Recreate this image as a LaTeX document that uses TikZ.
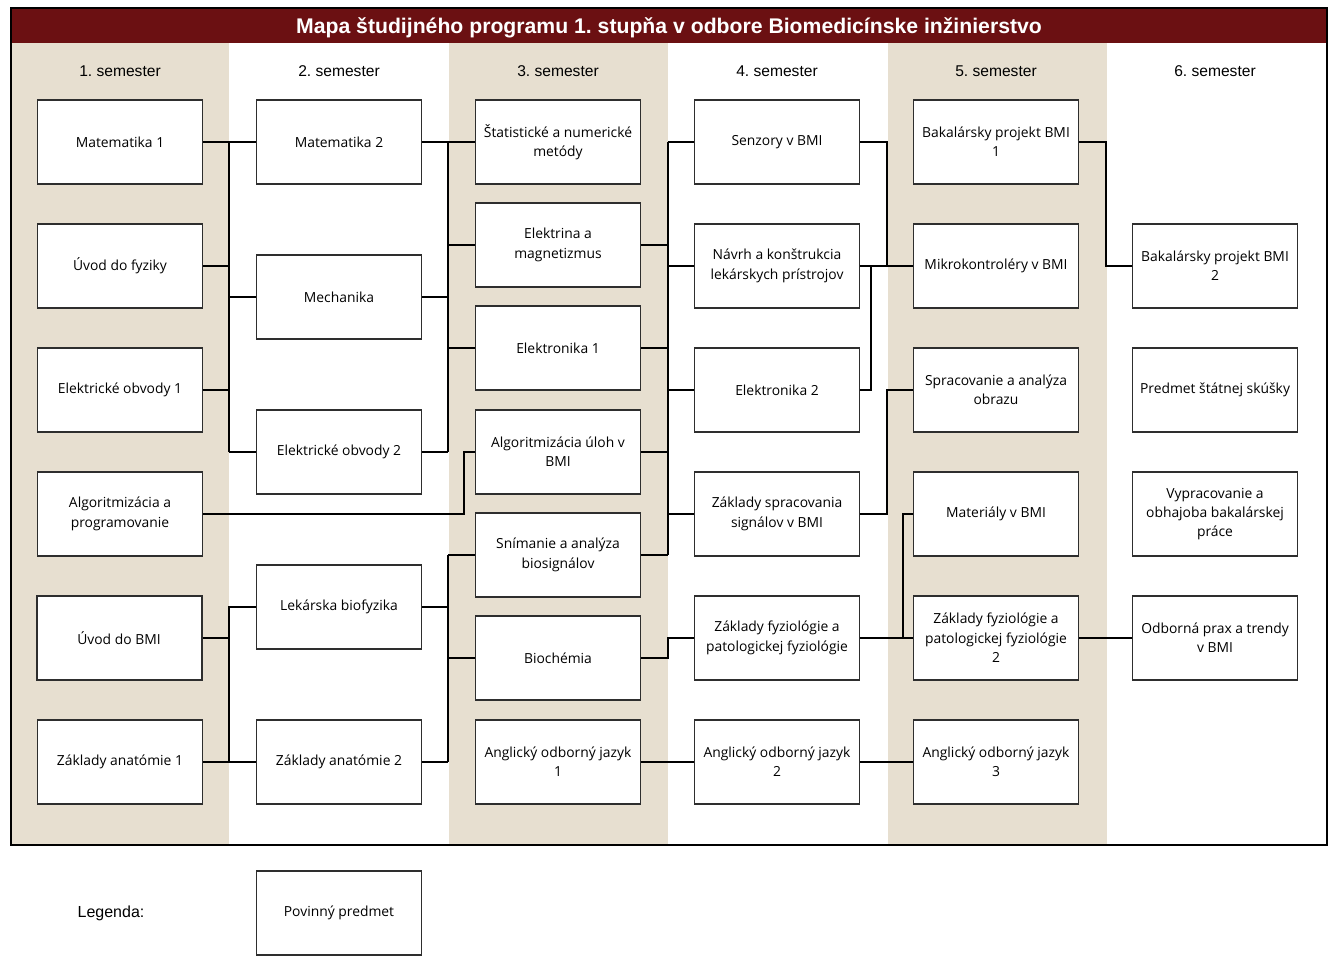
\documentclass[tikz,border=0pt]{standalone}
\usepackage{fontspec}
\setmainfont{Open Sans}
\newfontfamily\arialfont{Liberation Sans}
\usetikzlibrary{positioning}
\definecolor{mapbeige}{HTML}{E7DFD0}
\definecolor{mapred}{HTML}{6B1012}
\definecolor{boxgray}{HTML}{2E2E2E}
\frenchspacing

\begin{document}
\begin{tikzpicture}[
    x=0.75pt, y=-0.75pt,
    course/.style={rectangle, draw=boxgray, line width=1.1pt, fill=white, minimum width=123.75pt, minimum height=63pt, align=center, inner sep=0pt, font=\fontsize{10.4}{14.5}\selectfont},
    semlabel/.style={font=\arialfont\fontsize{11.7}{13}\selectfont},
    link/.style={draw=black, line width=1.1pt}
]
\useasboundingbox (0,0) rectangle (1333,978);

% Column backgrounds
\fill[mapbeige] (12,43) rectangle (229,845);
\fill[mapbeige] (449,43) rectangle (668,845);
\fill[mapbeige] (888,43) rectangle (1107,845);

% Title bar and frame
\fill[mapred] (12,9) rectangle (1326,43);
\node[font=\arialfont\bfseries\fontsize{15.9}{17}\selectfont, text=white] (title) at (669,28) {Mapa študijného programu 1. stupňa v odbore Biomedicínske inžinierstvo};
\draw[line width=1.5pt] (11,8) rectangle (1327,845);

% Semester labels
\node[semlabel] (s1) at (120,71) {1. semester};
\node[semlabel] (s2) at (339,71) {2. semester};
\node[semlabel] (s3) at (558,71) {3. semester};
\node[semlabel] (s4) at (777,71) {4. semester};
\node[semlabel] (s5) at (996,71) {5. semester};
\node[semlabel] (s6) at (1215,71) {6. semester};

% 1. semester
\node[course] (m1) at (120,142) {Matematika 1};
\node[course] (uf) at (120,266) {Úvod do fyziky};
\node[course] (eo1) at (120,390) {Elektrické obvody 1};
\node[course] (ap) at (120,514) {Algoritmizácia a\\programovanie};
\node[course, line width=1.5pt] (ubmi) at (119,638) {Úvod do BMI};
\node[course] (za1) at (120,762) {Základy anatómie 1};

% 2. semester
\node[course] (m2) at (339,142) {Matematika 2};
\node[course] (mech) at (339,297) {Mechanika};
\node[course] (eo2) at (339,452) {Elektrické obvody 2};
\node[course] (lb) at (339,607) {Lekárska biofyzika};
\node[course] (za2) at (339,762) {Základy anatómie 2};

% 3. semester
\node[course] (snm) at (558,142) {Štatistické a numerické\\metódy};
\node[course] (em) at (558,245) {Elektrina a\\magnetizmus};
\node[course] (el1) at (558,348) {Elektronika 1};
\node[course] (au) at (558,452) {Algoritmizácia úloh v\\BMI};
\node[course] (sab) at (558,555) {Snímanie a analýza\\biosignálov};
\node[course] (bch) at (558,658) {Biochémia};
\node[course] (aj1) at (558,762) {Anglický odborný jazyk\\1};

% 4. semester
\node[course] (sen) at (777,142) {Senzory v BMI};
\node[course] (nav) at (777,266) {Návrh a konštrukcia\\lekárskych prístrojov};
\node[course] (el2) at (777,390) {Elektronika 2};
\node[course] (zss) at (777,514) {Základy spracovania\\signálov v BMI};
\node[course] (zf1) at (777,638) {Základy fyziológie a\\patologickej fyziológie};
\node[course] (aj2) at (777,762) {Anglický odborný jazyk\\2};

% 5. semester
\node[course] (bp1) at (996,142) {Bakalársky projekt BMI\\1};
\node[course] (mk) at (996,266) {Mikrokontroléry v BMI};
\node[course] (sao) at (996,390) {Spracovanie a analýza\\obrazu};
\node[course] (mat) at (996,514) {Materiály v BMI};
\node[course] (zf2) at (996,638) {Základy fyziológie a\\patologickej fyziológie\\2};
\node[course] (aj3) at (996,762) {Anglický odborný jazyk\\3};

% 6. semester
\node[course] (bp2) at (1215,266) {Bakalársky projekt BMI\\2};
\node[course] (pss) at (1215,390) {Predmet štátnej skúšky};
\node[course] (vob) at (1215,514) {Vypracovanie a\\obhajoba bakalárskej\\práce};
\node[course] (opr) at (1215,638) {Odborná prax a trendy\\v BMI};

% Bus positions between columns
\coordinate (busA) at (229,0);
\coordinate (busB) at (448,0);
\coordinate (busC) at (464,0);
\coordinate (busD) at (668,0);
\coordinate (busE) at (887,0);
\coordinate (busF) at (871,0);
\coordinate (busG) at (903,0);
\coordinate (busH) at (1106,0);

% 1. -> 2. semester
\draw[link] (m1.east) -- (m2.west);
\draw[link] (m1.east -| busA) -- (eo2.west -| busA);
\draw[link] (uf.east) -- (uf.east -| busA);
\draw[link] (eo1.east) -- (eo1.east -| busA);
\draw[link] (mech.west) -- (mech.west -| busA);
\draw[link] (eo2.west) -- (eo2.west -| busA);
\draw[link] (ubmi.east) -| (lb.west -| busA) -- (lb.west);
\draw[link] (lb.west -| busA) -- (za2.west -| busA);
\draw[link] (za1.east) -- (za2.west);

% 2. -> 3. semester
\draw[link] (m2.east) -- (snm.west);
\draw[link] (m2.east -| busB) -- (eo2.east -| busB);
\draw[link] (mech.east) -- (mech.east -| busB);
\draw[link] (eo2.east) -- (eo2.east -| busB);
\draw[link] (em.west) -- (em.west -| busB);
\draw[link] (el1.west) -- (el1.west -| busB);
\draw[link] (ap.east) -| (au.west -| busC) -- (au.west);
\draw[link] (sab.west -| busB) -- (za2.east -| busB);
\draw[link] (lb.east) -- (lb.east -| busB);
\draw[link] (za2.east) -- (za2.east -| busB);
\draw[link] (sab.west) -- (sab.west -| busB);
\draw[link] (bch.west) -- (bch.west -| busB);

% 3. -> 4. semester
\draw[link] (sen.west -| busD) -- (sab.east -| busD);
\draw[link] (sen.west) -- (sen.west -| busD);
\draw[link] (nav.west) -- (nav.west -| busD);
\draw[link] (el2.west) -- (el2.west -| busD);
\draw[link] (zss.west) -- (zss.west -| busD);
\draw[link] (em.east) -- (em.east -| busD);
\draw[link] (el1.east) -- (el1.east -| busD);
\draw[link] (au.east) -- (au.east -| busD);
\draw[link] (sab.east) -- (sab.east -| busD);
\draw[link] (bch.east) -| (zf1.west -| busD) -- (zf1.west);
\draw[link] (aj1.east) -- (aj2.west);

% 4. -> 5. semester
\draw[link] (sen.east) -| (nav.east -| busE);
\draw[link] (nav.east) -- (mk.west);
\draw[link] (el2.east) -| (nav.east -| busF);
\draw[link] (zss.east) -| (sao.west -| busE) -- (sao.west);
\draw[link] (zf1.east) -- (zf2.west);
\draw[link] (mat.west) -| (zf2.west -| busG);
\draw[link] (aj2.east) -- (aj3.west);

% 5. -> 6. semester
\draw[link] (bp1.east) -| (bp2.west -| busH) -- (bp2.west);
\draw[link] (zf2.east) -- (opr.west);

% Legend
\node[font=\arialfont\fontsize{12}{14}\selectfont] (leg) at (111,913) {Legenda:};
\node[course] (mandatory) at (339,913) {Povinný predmet};

\end{tikzpicture}
\end{document}
